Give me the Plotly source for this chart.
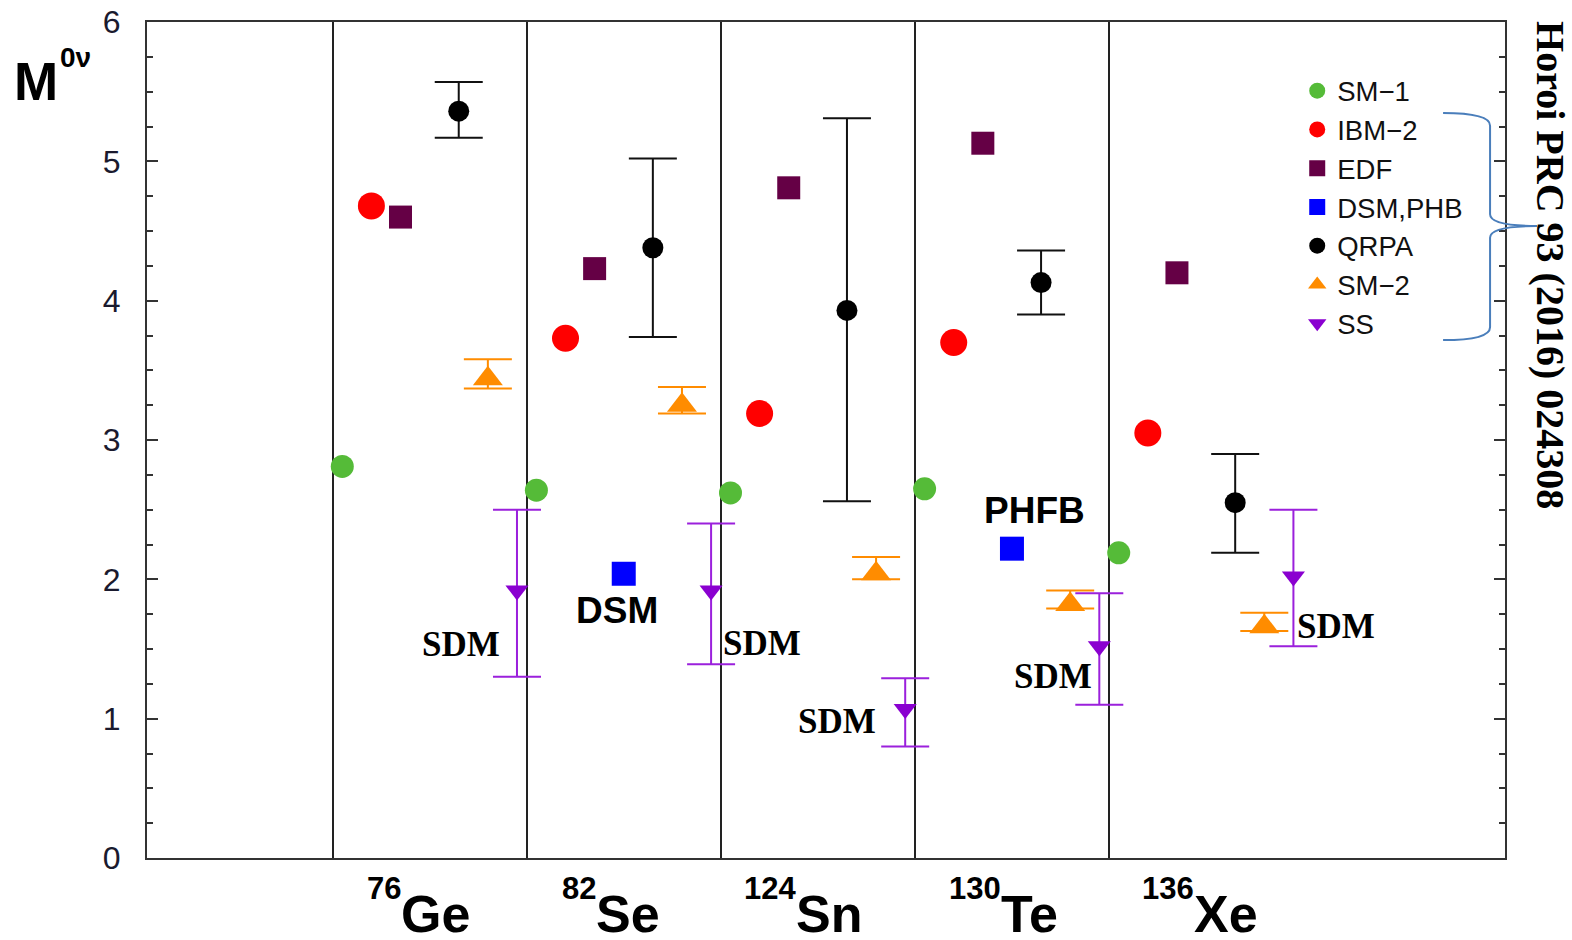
import plotly.graph_objects as go

# Nuclei along the x axis; each nucleus occupies one unit-wide slot starting at its index
elements = ["Ge", "Se", "Sn", "Te", "Xe"]
mass_numbers = ["76", "82", "124", "130", "136"]
slots = [1, 2, 3, 4, 5]

# Nuclear matrix elements M^0nu for each model
sm1 = [2.81, 2.64, 2.62, 2.65, 2.19]
ibm2 = [4.68, 3.73, 3.19, 3.70, 3.05]
edf = [4.60, 4.23, 4.81, 5.13, 4.20]
dsm_phb = [None, 2.04, None, 2.22, None]
qrpa = [5.36, 4.38, 3.93, 4.13, 2.55]
qrpa_hi = [5.57, 5.02, 5.31, 4.36, 2.90]
qrpa_lo = [5.17, 3.74, 2.56, 3.90, 2.19]
sm2 = [3.44, 3.25, 2.04, 1.82, 1.66]
sm2_hi = [3.58, 3.38, 2.16, 1.92, 1.76]
sm2_lo = [3.37, 3.19, 2.00, 1.79, 1.63]
ss = [1.92, 1.92, 1.07, 1.52, 2.02]
ss_hi = [2.50, 2.40, 1.29, 1.90, 2.50]
ss_lo = [1.30, 1.39, 0.80, 1.10, 1.52]

SANS = "Liberation Sans, Arial, sans-serif"
SERIF = "Liberation Serif, Times New Roman, serif"


def xs(offset):
    return [s + offset for s in slots]


def err(vals, hi, lo, color):
    return dict(
        type="data", symmetric=False,
        array=[h - v for v, h in zip(vals, hi)],
        arrayminus=[v - l for v, l in zip(vals, lo)],
        color=color, thickness=2, width=24,
    )


fig = go.Figure()

fig.add_trace(go.Scatter(
    x=xs(0.05), y=sm1, mode="markers", name="SM\u22121",
    marker=dict(symbol="circle", size=23, color="#55bb38")))
fig.add_trace(go.Scatter(
    x=xs(0.20), y=ibm2, mode="markers", name="IBM\u22122",
    marker=dict(symbol="circle", size=27, color="#ff0000")))
fig.add_trace(go.Scatter(
    x=xs(0.35), y=edf, mode="markers", name="EDF",
    marker=dict(symbol="square", size=23, color="#650045")))
fig.add_trace(go.Scatter(
    x=xs(0.50), y=dsm_phb, mode="markers", name="DSM,PHB",
    marker=dict(symbol="square", size=24, color="#0000ff")))
fig.add_trace(go.Scatter(
    x=xs(0.65), y=qrpa, mode="markers", name="QRPA",
    marker=dict(symbol="circle", size=21, color="#000000"),
    error_y=err(qrpa, qrpa_hi, qrpa_lo, "#111111")))
fig.add_trace(go.Scatter(
    x=xs(0.80), y=sm2, mode="markers", name="SM\u22122",
    marker=dict(symbol="triangle-up", size=26, color="#ff8c00"),
    error_y=err(sm2, sm2_hi, sm2_lo, "#ff8c00")))
fig.add_trace(go.Scatter(
    x=xs(0.95), y=ss, mode="markers", name="SS",
    marker=dict(symbol="triangle-down", size=20, color="#8a00d0"),
    error_y=err(ss, ss_hi, ss_lo, "#9b20dc")))

annotations = []

# Nucleus names under the axis: mass number to the left of the split, symbol to the right
label_split = [1.351, 2.356, 3.387, 4.444, 5.438]
for sx, a, el in zip(label_split, mass_numbers, elements):
    annotations.append(dict(
        x=sx, xref="x", y=-0.0359, yref="paper", yanchor="middle", xanchor="right",
        text=f"<b>{a}</b>", showarrow=False, xshift=2,
        font=dict(family=SANS, size=31, color="#000")))
    annotations.append(dict(
        x=sx, xref="x", y=-0.067, yref="paper", yanchor="middle", xanchor="left",
        text=f"<b>{el}</b>", showarrow=False, xshift=-2,
        font=dict(family=SANS, size=52, color="#000")))

# SDM labels next to the SS points
sdm_pos = [(1.664, 1.53), (3.21, 1.54), (3.60, 0.98), (4.71, 1.30), (6.17, 1.665)]
for px, py in sdm_pos:
    annotations.append(dict(
        x=px, y=py, xref="x", yref="y", text="<b>SDM</b>", showarrow=False,
        xanchor="center", yanchor="middle",
        font=dict(family=SERIF, size=35, color="#000")))

annotations.append(dict(
    x=2.463, y=1.775, xref="x", yref="y", text="<b>DSM</b>", showarrow=False,
    font=dict(family=SANS, size=37, color="#000")))
annotations.append(dict(
    x=4.616, y=2.496, xref="x", yref="y", text="<b>PHFB</b>", showarrow=False,
    font=dict(family=SANS, size=37, color="#000")))

# Axis title: M with a raised 0nu
annotations.append(dict(
    x=-0.0995, y=0.9294, xref="paper", yref="paper", xanchor="left", yanchor="middle",
    text="<b>M</b>", showarrow=False, font=dict(family=SANS, size=53, color="#000")))
annotations.append(dict(
    x=-0.0655, y=0.957, xref="paper", yref="paper", xanchor="left", yanchor="middle",
    text="<b>0\u03bd</b>", showarrow=False, font=dict(family=SANS, size=28, color="#000")))

# Reference note on the right side
annotations.append(dict(
    x=1.034, y=0.709, xref="paper", yref="paper", xanchor="center", yanchor="middle",
    text="<b>Horoi PRC 93 (2016) 024308</b>", textangle=90, showarrow=False,
    font=dict(family=SERIF, size=40, color="#000")))

# Brace grouping legend entries toward the reference note
brace = ("M 0.9544,0.8911 Q 0.9890,0.8911 0.9890,0.8760 L 0.9890,0.7700 "
         "Q 0.9890,0.7560 1.0236,0.7560 Q 0.9890,0.7560 0.9890,0.7420 "
         "L 0.9890,0.6350 Q 0.9890,0.6196 0.9544,0.6196")

fig.update_layout(
    width=1572, height=940,
    margin=dict(l=147, r=67, t=22, b=82, autoexpand=False),
    paper_bgcolor="white", plot_bgcolor="white",
    font=dict(family=SANS, color="#000"),
    showlegend=True,
    legend=dict(
        x=0.847, y=0.947, xanchor="left", yanchor="top",
        bgcolor="rgba(0,0,0,0)", font=dict(family=SANS, size=27.5, color="#111"),
        itemsizing="trace", tracegroupgap=0,
    ),
    annotations=annotations,
    shapes=[dict(type="path", path=brace, xref="paper", yref="paper",
                 line=dict(color="#4a7ebb", width=2))],
)

fig.update_xaxes(
    range=[0.044, 7.04], tickvals=slots, showticklabels=False, ticks="",
    showgrid=True, gridcolor="#222", gridwidth=2, zeroline=False,
    showline=True, linecolor="#333", linewidth=2, mirror=True, automargin=False,
)
fig.update_yaxes(
    range=[0, 6], dtick=1, tick0=0, ticks="inside", ticklen=11, tickwidth=2,
    tickcolor="#333", showgrid=False, zeroline=False, automargin=False,
    showline=True, linecolor="#333", linewidth=2, mirror="ticks",
    tickfont=dict(family=SANS, size=32, color="#1a1a2e"), ticklabelstandoff=18,
    minor=dict(dtick=0.25, ticks="inside", ticklen=6, tickwidth=2, tickcolor="#333"),
)

fig.write_html("out.html")
